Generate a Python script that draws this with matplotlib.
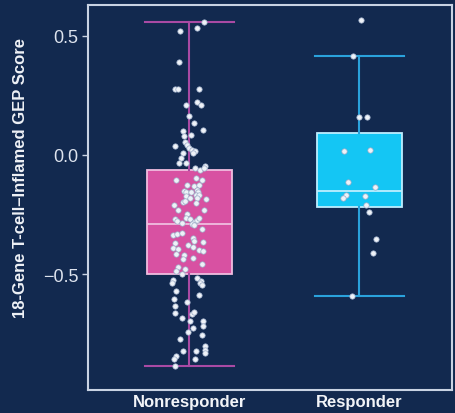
import matplotlib
matplotlib.use("Agg")
import matplotlib.pyplot as plt
import numpy as np

# Groups
groups = ["Nonresponder", "Responder"]

# Box summary statistics per group (GEP score)
box_q1 = [-0.500, -0.218]
box_med = [-0.290, -0.151]
box_q3 = [-0.063, 0.092]
whisk_lo = [-0.887, -0.592]
whisk_hi = [0.559, 0.416]

# Individual patient scores and their horizontal jitter (category units)
nonresp_scores = [
    0.560, 0.535, 0.522, 0.389, 0.277, 0.275, 0.279, 0.223, 0.210, 0.210,
    0.163, 0.134, 0.106, 0.100, 0.081, 0.085, 0.056, 0.042, 0.028, 0.022,
    0.037, 0.016, 0.008, 0.007, -0.014, -0.035, -0.035, -0.055, -0.062, -0.045,
    -0.056, -0.104, -0.095, -0.105, -0.126, -0.132, -0.126, -0.150, -0.146, -0.154,
    -0.157, -0.154, -0.172, -0.170, -0.167, -0.182, -0.182, -0.210, -0.199, -0.192,
    -0.202, -0.185, -0.231, -0.231, -0.248, -0.269, -0.276, -0.265, -0.270, -0.281,
    -0.274, -0.265, -0.286, -0.290, -0.294, -0.311, -0.336, -0.333, -0.328, -0.350,
    -0.360, -0.364, -0.371, -0.378, -0.388, -0.399, -0.402, -0.392, -0.395, -0.416,
    -0.420, -0.437, -0.434, -0.458, -0.472, -0.486, -0.479, -0.500, -0.524, -0.518,
    -0.528, -0.538, -0.538, -0.546, -0.570, -0.587, -0.605, -0.619, -0.636, -0.665,
    -0.668, -0.661, -0.686, -0.696, -0.696, -0.717, -0.728, -0.745, -0.756, -0.773,
    -0.822, -0.822, -0.801, -0.818, -0.832, -0.843, -0.857, -0.857, -0.888,
]
nonresp_jitter = [
    0.087, 0.044, -0.058, -0.060, -0.085, -0.069, 0.054, 0.044, -0.022, 0.069,
    -0.001, 0.026, 0.081, -0.036, -0.032, 0.007, -0.025, -0.015, -0.001, 0.013,
    -0.087, 0.032, 0.021, -0.036, -0.050, -0.060, -0.022, 0.034, 0.062, 0.091,
    0.087, -0.079, 0.038, 0.072, -0.016, 0.025, 0.054, -0.032, 0.042, -0.021,
    0.009, 0.050, -0.021, 0.038, 0.058, 0.003, 0.046, -0.093, -0.040, -0.026,
    0.038, 0.097, -0.066, 0.085, -0.016, -0.085, -0.075, -0.022, 0.003, 0.028,
    0.042, 0.058, -0.046, 0.013, 0.026, 0.075, -0.095, -0.072, -0.046, 0.019,
    0.026, 0.081, -0.085, -0.007, 0.022, 0.058, 0.081, -0.095, -0.066, -0.079,
    -0.031, -0.040, 0.019, 0.072, -0.066, -0.079, -0.026, -0.046, -0.095, 0.046,
    0.066, -0.101, 0.062, 0.074, -0.081, 0.054, -0.089, -0.016, -0.087, -0.084,
    0.013, 0.028, -0.046, 0.003, 0.078, 0.078, 0.022, -0.007, 0.072, -0.056,
    -0.040, 0.038, 0.093, 0.093, 0.093, -0.081, -0.091, 0.034, -0.084,
]
resp_scores = [
    0.567, 0.417, 0.158, 0.158, 0.018, 0.022, -0.115, -0.134,
    -0.168, -0.182, -0.171, -0.210, -0.241, -0.353, -0.413, -0.591,
]
resp_jitter = [
    0.007, -0.036, -0.001, 0.042, -0.091, 0.062, -0.069, 0.093,
    -0.079, -0.095, 0.032, 0.036, 0.056, 0.095, 0.078, -0.044,
]

y_ticks = [-0.5, 0.0, 0.5]
y_label = "18-Gene T-cell\u2013Inflamed GEP Score"

bg = "#12294f"
fill_colors = ["#d851a2", "#14c6f4"]
edge_colors = ["#f0bde0", "#bdeeff"]
whisker_colors = ["#a94aa4", "#2aa2dc"]
frame_color = "#c9d3e3"
text_color = "#dde3ee"

plt.rcParams["font.family"] = ["Liberation Sans", "DejaVu Sans"]

fig = plt.figure(figsize=(4.56, 4.14), dpi=100, facecolor=bg)
ax = fig.add_axes([0.193, 0.0556, 0.798, 0.93])
ax.set_facecolor(bg)

positions = np.arange(len(groups))
for i in range(len(groups)):
    stats = [dict(med=box_med[i], q1=box_q1[i], q3=box_q3[i],
                  whislo=whisk_lo[i], whishi=whisk_hi[i], fliers=[])]
    ax.bxp(stats, positions=[positions[i]], widths=0.5, patch_artist=True,
           showfliers=False, capwidths=0.52,
           boxprops=dict(facecolor=fill_colors[i], edgecolor=edge_colors[i], linewidth=1.3),
           medianprops=dict(color=edge_colors[i], linewidth=1.3),
           whiskerprops=dict(color=whisker_colors[i], linewidth=1.5),
           capprops=dict(color=whisker_colors[i], linewidth=1.5),
           zorder=2)

pt_kw = dict(s=15, facecolor="#eef2f8", edgecolor="#9aaac6", linewidths=0.5, zorder=3)
ax.scatter(positions[0] + np.array(nonresp_jitter), nonresp_scores, **pt_kw)
ax.scatter(positions[1] + np.array(resp_jitter), resp_scores, **pt_kw)

ax.set_xlim(-0.597, 1.544)
ax.set_ylim(-0.987, 0.630)
ax.set_xticks(positions)
ax.set_xticklabels(groups, fontsize=12, fontweight="bold", color="#f2f4f8")
ax.set_yticks(y_ticks)
ax.set_yticklabels([f"{t:.1f}".replace("-", "\u2212") for t in y_ticks],
                   fontsize=13, color=text_color)
ax.tick_params(axis="y", colors=frame_color, length=4, width=1, pad=3,
               labelcolor=text_color)
ax.tick_params(axis="x", length=0, pad=3)
for sp in ax.spines.values():
    sp.set_color(frame_color)
    sp.set_linewidth(1.5)

fig.text(0.044, 0.571, y_label, rotation=90, ha="center", va="center",
         fontsize=12, fontweight="bold", color="#eef1f6")

fig.savefig("out.png", dpi=100, facecolor=bg)
